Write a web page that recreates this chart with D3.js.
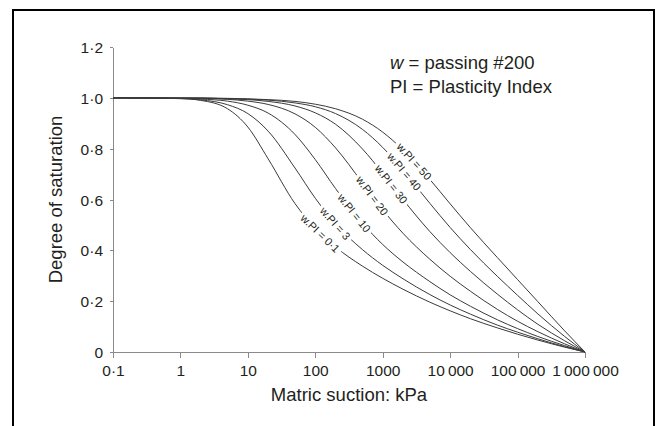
<!DOCTYPE html>
<html>
<head>
<meta charset="utf-8">
<script src="https://cdn.jsdelivr.net/npm/d3@7"></script>
<style>
  body { margin: 0; background: #fff; }
  svg text { font-family: "Liberation Sans", Arial, sans-serif; fill: #231f20; }
</style>
</head>
<body>
<svg></svg>
<script>
// matric suction (kPa) at which the curves were read
const suction = [0.1, 1, 2, 5, 10, 20, 50, 100, 200, 500, 1000, 2000, 5000, 10000, 20000, 50000, 100000, 200000, 500000, 1000000];

// degree of saturation, one array per w.PI curve
const sat01 = [1, 0.997, 0.990, 0.957, 0.885, 0.760, 0.584, 0.486, 0.413, 0.338, 0.290, 0.247, 0.196, 0.162, 0.131, 0.095, 0.070, 0.047, 0.019, 0];
const sat3  = [1, 0.997, 0.992, 0.973, 0.938, 0.869, 0.724, 0.605, 0.504, 0.403, 0.341, 0.288, 0.226, 0.185, 0.149, 0.106, 0.078, 0.052, 0.021, 0];
const sat10 = [1, 0.998, 0.995, 0.987, 0.971, 0.940, 0.856, 0.757, 0.643, 0.507, 0.423, 0.354, 0.277, 0.225, 0.180, 0.127, 0.092, 0.061, 0.025, 0];
const sat20 = [1, 0.999, 0.998, 0.994, 0.987, 0.974, 0.937, 0.884, 0.803, 0.666, 0.560, 0.467, 0.365, 0.298, 0.239, 0.168, 0.121, 0.080, 0.032, 0];
const sat30 = [1, 0.999, 0.999, 0.996, 0.993, 0.986, 0.968, 0.941, 0.896, 0.799, 0.703, 0.600, 0.474, 0.391, 0.317, 0.228, 0.166, 0.109, 0.044, 0];
const sat40 = [1, 0.999, 0.999, 0.997, 0.995, 0.991, 0.980, 0.965, 0.938, 0.876, 0.805, 0.715, 0.585, 0.490, 0.403, 0.298, 0.223, 0.150, 0.061, 0];
const sat50 = [1, 0.999, 0.999, 0.998, 0.996, 0.993, 0.986, 0.975, 0.957, 0.916, 0.865, 0.795, 0.679, 0.583, 0.489, 0.372, 0.285, 0.198, 0.083, 0];

const curveNames = ['0·1', '3', '10', '20', '30', '40', '50'];
const curveValues = [sat01, sat3, sat10, sat20, sat30, sat40, sat50];
// suction where each curve label sits
const labelSuction = [118, 197, 377, 697, 1334, 2080, 2920];

const xTicks = [0.1, 1, 10, 100, 1000, 10000, 100000, 1000000];
const xTickLabels = ['0·1', '1', '10', '100', '1000', '10\u2009000', '100\u2009000', '1\u2009000\u2009000'];
const yTicks = [0, 0.2, 0.4, 0.6, 0.8, 1.0, 1.2];
const yTickLabels = ['0', '0·2', '0·4', '0·6', '0·8', '1·0', '1·2'];

const svgWidth = 659;
const svgHeight = 426;
const margin = { top: 47, right: 74, bottom: 74, left: 113 };
const width = svgWidth - margin.left - margin.right;
const height = svgHeight - margin.top - margin.bottom;

const axisColor = '#8a8a8a';
const lineColor = '#3a3a3a';

const root = d3.select('svg')
    .attr('width', svgWidth)
    .attr('height', svgHeight);

// outer frame (open at the bottom of the picture)
root.append('rect')
    .attr('x', 13)
    .attr('y', 10)
    .attr('width', 641)
    .attr('height', 440)
    .attr('fill', 'none')
    .attr('stroke', '#000')
    .attr('stroke-width', 2);

const svg = root.append('g')
    .attr('transform', `translate(${margin.left}, ${margin.top})`);

const xScale = d3.scaleLog()
    .domain([0.1, 1000000])
    .range([0, width]);

const yScale = d3.scaleLinear()
    .domain([0, 1.2])
    .range([height, 0]);

// axes
const xAxis = svg.append('g')
    .attr('transform', `translate(0, ${height})`)
    .call(d3.axisBottom(xScale)
        .tickValues(xTicks)
        .tickFormat((d, i) => xTickLabels[i])
        .tickSize(6)
        .tickSizeOuter(0));
xAxis.select('.domain').attr('stroke', axisColor);
xAxis.selectAll('.tick line').attr('stroke', axisColor);
xAxis.selectAll('.tick text')
    .attr('y', 24)
    .attr('dy', 0)
    .attr('font-size', '15.5px');

const yAxis = svg.append('g')
    .call(d3.axisLeft(yScale)
        .tickValues(yTicks)
        .tickFormat((d, i) => yTickLabels[i])
        .tickSize(3)
        .tickSizeOuter(0));
yAxis.select('.domain').attr('stroke', axisColor);
yAxis.selectAll('.tick line').attr('stroke', axisColor);
yAxis.selectAll('.tick text')
    .attr('x', -10)
    .attr('dy', '0.36em')
    .attr('font-size', '15.5px');

svg.selectAll('.domain, .tick line').attr('shape-rendering', 'crispEdges');

// axis titles
svg.append('text')
    .attr('x', width / 2)
    .attr('y', height + 49)
    .attr('text-anchor', 'middle')
    .attr('font-size', '18.5px')
    .text('Matric suction: kPa');

svg.append('text')
    .attr('transform', 'rotate(-90)')
    .attr('x', -(yScale(0.6)))
    .attr('y', -51)
    .attr('text-anchor', 'middle')
    .attr('font-size', '18.5px')
    .text('Degree of saturation');

// curves
const line = d3.line()
    .x(d => xScale(d[0]))
    .y(d => yScale(d[1]))
    .curve(d3.curveMonotoneX);

const paths = curveValues.map(vals => svg.append('path')
    .datum(suction.map((s, i) => [s, vals[i]]))
    .attr('fill', 'none')
    .attr('stroke', lineColor)
    .attr('stroke-width', 1)
    .attr('d', line));

// find the length along a path where it reaches a given x
function lengthAtX(node, px) {
    let lo = 0, hi = node.getTotalLength();
    for (let k = 0; k < 40; k++) {
        const mid = (lo + hi) / 2;
        if (node.getPointAtLength(mid).x < px) lo = mid; else hi = mid;
    }
    return lo;
}

// curve labels, sitting in a gap of the line
paths.forEach((p, i) => {
    const node = p.node();
    const len = lengthAtX(node, xScale(labelSuction[i]));
    const pt = node.getPointAtLength(len);
    const a = node.getPointAtLength(Math.max(0, len - 8));
    const b = node.getPointAtLength(len + 8);
    const angle = Math.atan2(b.y - a.y, b.x - a.x) * 180 / Math.PI;

    const g = svg.append('g')
        .attr('transform', `translate(${pt.x}, ${pt.y}) rotate(${angle})`);
    const bg = g.append('rect').attr('fill', '#fff');
    const t = g.append('text')
        .attr('text-anchor', 'middle')
        .attr('dy', '0.35em')
        .attr('font-size', '11px')
        .text('w.PI = ' + curveNames[i]);
    const w = t.node().getComputedTextLength();
    bg.attr('x', -w / 2 - 3)
        .attr('y', -6)
        .attr('width', w + 6)
        .attr('height', 12);
});

// legend note
const note = root.append('g')
    .attr('transform', 'translate(390, 0)');

const line1 = note.append('text')
    .attr('x', 0)
    .attr('y', 69)
    .attr('font-size', '18.5px');
line1.append('tspan').attr('font-style', 'italic').text('w');
line1.append('tspan').text(' = passing #200');

note.append('text')
    .attr('x', 0)
    .attr('y', 93)
    .attr('font-size', '18.5px')
    .text('PI = Plasticity Index');
</script>
</body>
</html>
